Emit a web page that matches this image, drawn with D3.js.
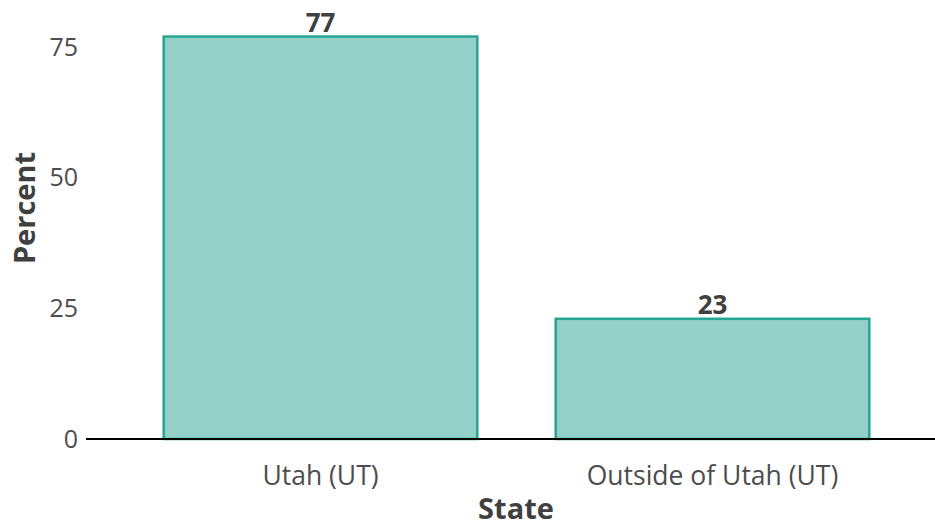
<!DOCTYPE html>
<html>
<head>
<meta charset="utf-8">
<script src="https://cdn.jsdelivr.net/npm/d3@7"></script>
<style>
  body { margin: 0; background: #ffffff; }
  text { font-family: "Open Sans", sans-serif; }
</style>
</head>
<body>
<div id="chart"></div>
<script>
// data
let states = ["Utah (UT)", "Outside of Utah (UT)"];
let percents = [77, 23];
let yTicks = [0, 25, 50, 75];

const W = 935, H = 527;

var svg = d3.select("#chart")
  .append("svg")
  .attr("width", W)
  .attr("height", H);

// x: band scale for the two states
var x = d3.scaleBand()
  .domain(states)
  .range([124.5, 908.5])
  .paddingInner(0.2)
  .paddingOuter(0.1);

// y: percent
var y = d3.scaleLinear()
  .domain([0, 75])
  .range([439, 47]);

// bars
svg.append("g")
  .selectAll("rect")
  .data(states)
  .enter()
  .append("rect")
    .attr("x", d => x(d))
    .attr("y", (d, i) => y(percents[i]))
    .attr("width", x.bandwidth())
    .attr("height", (d, i) => y(0) - y(percents[i]))
    .style("fill", "#93d1c8")
    .style("stroke", "#27a593")
    .style("stroke-width", 2.5);

// value labels on top of bars
svg.append("g")
  .selectAll("text")
  .data(states)
  .enter()
  .append("text")
    .attr("x", d => x(d) + x.bandwidth() / 2)
    .attr("y", (d, i) => y(percents[i]) - 5)
    .attr("text-anchor", "middle")
    .style("font-weight", "bold")
    .style("font-size", "26px")
    .style("fill", "#404040")
    .text((d, i) => percents[i]);

// baseline
svg.append("line")
  .attr("x1", 86)
  .attr("x2", W)
  .attr("y1", y(0))
  .attr("y2", y(0))
  .attr("stroke", "#000000")
  .attr("stroke-width", 2.2);

// y axis (labels only)
var yAxis = svg.append("g")
  .attr("transform", "translate(86,0)")
  .call(d3.axisLeft(y).tickValues(yTicks).tickSize(0).tickPadding(8));
yAxis.select(".domain").remove();
yAxis.selectAll(".tick text")
  .style("font-size", "25px")
  .style("font-family", "'Open Sans', sans-serif")
  .attr("fill", "#4d4d4d");

// x axis (labels only)
var xAxis = svg.append("g")
  .attr("transform", "translate(0," + y(0) + ")")
  .call(d3.axisBottom(x).tickSize(0).tickPadding(27));
xAxis.select(".domain").remove();
xAxis.selectAll(".tick text")
  .style("font-size", "26.5px")
  .style("font-family", "'Open Sans', sans-serif")
  .attr("fill", "#4d4d4d");

// axis titles
svg.append("text")
  .attr("text-anchor", "middle")
  .attr("x", 516)
  .attr("y", 519)
  .style("font-weight", "bold")
  .style("font-size", "29px")
  .style("fill", "#404040")
  .text("State");

svg.append("text")
  .attr("text-anchor", "middle")
  .attr("transform", "rotate(-90)")
  .attr("x", -208)
  .attr("y", 35)
  .style("font-weight", "bold")
  .style("font-size", "29px")
  .style("fill", "#404040")
  .text("Percent");
</script>
</body>
</html>
